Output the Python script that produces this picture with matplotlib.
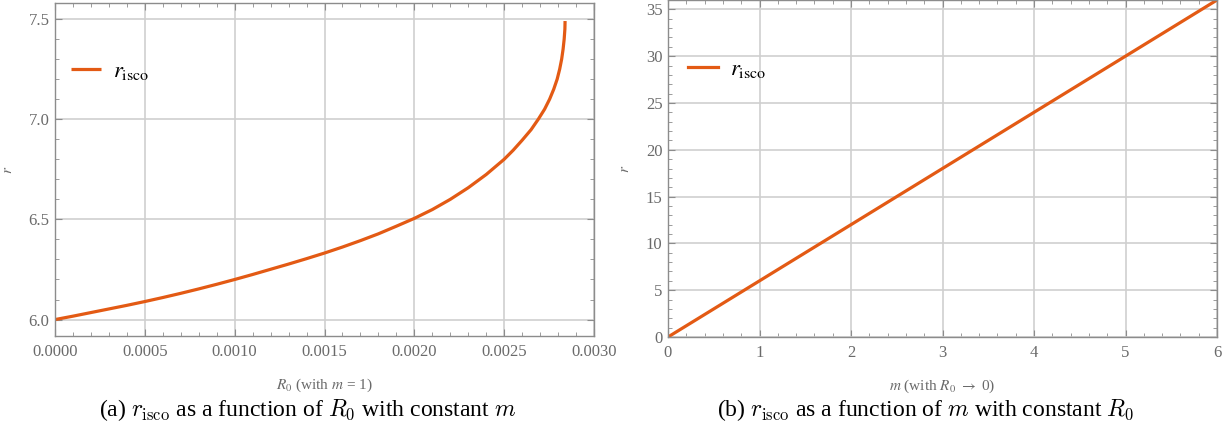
import numpy as np
import matplotlib
matplotlib.use('Agg')
import matplotlib.pyplot as plt
from matplotlib.ticker import MultipleLocator, FormatStrFormatter

# r_isco against R0 (m = 1)
r0_vals = [0.0, 0.0001, 0.0002, 0.0003, 0.0004, 0.0005, 0.0006, 0.0007,
           0.0008, 0.0009, 0.0010, 0.0011, 0.0012, 0.0013, 0.0014, 0.0015,
           0.0016, 0.0017, 0.0018, 0.0019, 0.0020, 0.0021, 0.0022,
           0.0023, 0.0024, 0.0025, 0.00255, 0.0026, 0.00265,
           0.00269, 0.002725, 0.002753, 0.002776, 0.002795, 0.002809,
           0.00282, 0.002828, 0.002834, 0.002838, 0.002839]
risco_r0 = [6.0, 6.017, 6.035, 6.053, 6.071, 6.09, 6.11, 6.131,
            6.153, 6.176, 6.2, 6.225, 6.251, 6.277, 6.304, 6.332,
            6.362, 6.394, 6.428, 6.466, 6.505, 6.549, 6.6,
            6.658, 6.724, 6.8, 6.845, 6.895, 6.948,
            7.0, 7.05, 7.1, 7.15, 7.2, 7.25,
            7.3, 7.35, 7.4, 7.45, 7.49]

# r_isco against m (R0 -> 0)
m_vals = [0, 1, 2, 3, 4, 5, 6]
risco_m = [0, 6, 12, 18, 24, 30, 36]

LINE = '#E35A14'
GRID = '#CFCFCF'
SPINE = '#8C8C8C'
LABEL = '#6A6A6A'

plt.rcParams['font.family'] = ['Liberation Serif', 'DejaVu Serif']
plt.rcParams['mathtext.fontset'] = 'stix'

fig = plt.figure(figsize=(12.31, 4.34), dpi=100)
ax1 = fig.add_axes([55 / 1231, 1 - 336 / 434, 539 / 1231, 333 / 434])
ax2 = fig.add_axes([668 / 1231, 1 - 337 / 434, 549 / 1231, 337 / 434])


def style(ax):
    for s in ax.spines.values():
        s.set_color(SPINE)
        s.set_linewidth(1.0)
    ax.tick_params(which='both', direction='in', top=True, right=True,
                   color=SPINE, labelcolor=LABEL, labelsize=12)
    ax.tick_params(which='major', length=5, width=0.8)
    ax.tick_params(which='minor', length=3, width=0.6)
    ax.tick_params(axis='x', which='both', labeltop=False, pad=6)
    ax.tick_params(axis='y', which='both', labelright=False, pad=4)
    ax.grid(True, which='major', color=GRID, linewidth=1.2)
    ax.set_axisbelow(True)
    ax.set_ylabel('$r$', color=LABEL, fontsize=11, labelpad=10)


def add_legend(ax, x, y):
    ax.legend(loc='center left', bbox_to_anchor=(x, y), frameon=False,
              fontsize=16.5, handlelength=1.3, handletextpad=0.55,
              borderpad=0, borderaxespad=0)


style(ax1)
ax1.plot(r0_vals, risco_r0, color=LINE, lw=2.3, label=r'$r_{\rm isco}$',
         solid_capstyle='butt', solid_joinstyle='round')
ax1.set_xlim(0, 0.003)
ax1.set_ylim(5.918, 7.58)
ax1.xaxis.set_major_locator(MultipleLocator(0.0005))
ax1.xaxis.set_minor_locator(MultipleLocator(0.0001))
ax1.xaxis.set_major_formatter(FormatStrFormatter('%.4f'))
ax1.yaxis.set_major_locator(MultipleLocator(0.5))
ax1.yaxis.set_minor_locator(MultipleLocator(0.1))
ax1.yaxis.set_major_formatter(FormatStrFormatter('%.1f'))
ax1.set_xlabel(r'$R_0$ (with $m$ = 1)', color=LABEL, fontsize=11, labelpad=12)
add_legend(ax1, 0.0297, 0.795)

style(ax2)
ax2.plot(m_vals, risco_m, color=LINE, lw=2.3, label=r'$r_{\rm isco}$')
ax2.set_xlim(0, 6)
ax2.set_ylim(0, 36)
ax2.xaxis.set_major_locator(MultipleLocator(1))
ax2.xaxis.set_minor_locator(MultipleLocator(0.2))
ax2.yaxis.set_major_locator(MultipleLocator(5))
ax2.yaxis.set_minor_locator(MultipleLocator(1))
ax2.set_xlabel(r'$m$ (with $R_0$ $\rightarrow$ 0)', color=LABEL, fontsize=11, labelpad=12)
add_legend(ax2, 0.0364, 0.795)

fig.text(308 / 1231, 1 - 410 / 434,
         r'(a) $r_{\rm isco}$ as a function of $R_0$ with constant $m$',
         ha='center', va='center', fontsize=17, math_fontfamily='cm')
fig.text(926 / 1231, 1 - 410 / 434,
         r'(b) $r_{\rm isco}$ as a function of $m$ with constant $R_0$',
         ha='center', va='center', fontsize=17, math_fontfamily='cm')

fig.savefig('out.png', dpi=100)
